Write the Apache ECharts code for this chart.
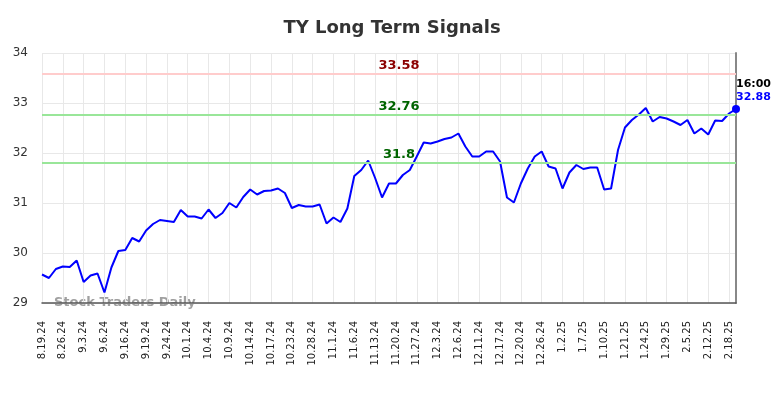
<!DOCTYPE html>
<html style="height: 100%">
<head>
    <meta charset="utf-8">
</head>
<body style="height: 100%; margin: 0">
    <div id="container" style="width: 784px; height: 398px;"></div>
    <script type="text/javascript" src="https://cdn.jsdelivr.net/npm/echarts@6/dist/echarts.min.js"></script>
    <script type="text/javascript">
        // tick labels, one every 3 points
        var tickLabels = ['8.19.24', '8.26.24', '9.3.24', '9.6.24', '9.16.24', '9.19.24', '9.24.24',
            '10.1.24', '10.4.24', '10.9.24', '10.14.24', '10.17.24', '10.23.24', '10.28.24',
            '11.1.24', '11.6.24', '11.13.24', '11.20.24', '11.27.24', '12.3.24', '12.6.24',
            '12.11.24', '12.17.24', '12.20.24', '12.26.24', '1.2.25', '1.7.25', '1.10.25',
            '1.21.25', '1.24.25', '1.29.25', '2.5.25', '2.12.25', '2.18.25'];

        var prices = [29.57, 29.50, 29.68, 29.73, 29.72, 29.85, 29.42, 29.55, 29.59, 29.21,
            29.71, 30.04, 30.06, 30.30, 30.23, 30.45, 30.58, 30.66, 30.64, 30.62,
            30.86, 30.73, 30.73, 30.69, 30.87, 30.70, 30.80, 31.00, 30.91, 31.12,
            31.27, 31.17, 31.24, 31.25, 31.29, 31.20, 30.90, 30.96, 30.93, 30.93,
            30.97, 30.59, 30.71, 30.62, 30.89, 31.54, 31.66, 31.85, 31.50, 31.11,
            31.39, 31.39, 31.56, 31.66, 31.93, 32.21, 32.19, 32.23, 32.28, 32.31,
            32.39, 32.13, 31.93, 31.93, 32.03, 32.03, 31.83, 31.11, 31.01, 31.39,
            31.69, 31.93, 32.03, 31.73, 31.69, 31.29, 31.61, 31.76, 31.68, 31.71,
            31.71, 31.27, 31.29, 32.06, 32.51, 32.66, 32.77, 32.90, 32.63, 32.72,
            32.69, 32.63, 32.56, 32.66, 32.39, 32.49, 32.37, 32.65, 32.64, 32.79,
            32.88];

        var levels = [33.58, 32.76, 31.8];
        var levelLineColors = ['#ffcccc', '#99e699', '#99e699'];
        var levelTextColors = ['#8b0000', '#006400', '#006400'];
        var lastTime = '16:00';

        var categories = prices.map(function (v, i) { return String(i); });
        var lastIdx = prices.length - 1;

        var dom = document.getElementById("container");
        var myChart = echarts.init(dom);

        var markData = levels.map(function (v, i) {
            return {
                yAxis: v,
                lineStyle: { color: levelLineColors[i], width: 2, type: 'solid' },
                label: {
                    show: true,
                    position: 'insideMiddleTop',
                    formatter: String(v),
                    color: levelTextColors[i],
                    fontWeight: 'bold',
                    fontSize: 13,
                    distance: 2,
                    offset: [10, 0]
                }
            };
        });

        var seriesData = prices.map(function (v, i) {
            if (i === lastIdx) {
                return {
                    value: v,
                    label: {
                        show: true,
                        position: [4, -1],
                        align: 'left',
                        verticalAlign: 'bottom',
                        formatter: '{t|' + lastTime + '}\n{v|' + v.toFixed(2) + '}',
                        rich: {
                            t: { color: '#000', fontWeight: 'bold', fontSize: 11, lineHeight: 13 },
                            v: { color: '#0000ff', fontWeight: 'bold', fontSize: 11, lineHeight: 13 }
                        }
                    }
                };
            }
            return v;
        });

        var option = {
            animation: false,
            textStyle: { fontFamily: 'DejaVu Sans' },
            title: {
                text: 'TY Long Term Signals',
                left: 'center',
                top: 14,
                textStyle: { fontSize: 18, fontWeight: 'bold', color: '#333', fontFamily: 'DejaVu Sans' }
            },
            graphic: [{
                type: 'text',
                left: 54,
                top: 296,
                style: {
                    text: 'Stock Traders Daily',
                    fill: '#a0a0a0',
                    font: 'bold 13px DejaVu Sans'
                }
            }],
            grid: { left: 42, right: 48, top: 53, bottom: 95 },
            xAxis: {
                type: 'category',
                data: categories,
                boundaryGap: false,
                axisLine: { lineStyle: { color: '#555', width: 1.5 } },
                axisTick: { show: false },
                axisLabel: {
                    interval: 2,
                    rotate: 90,
                    margin: 18,
                    fontSize: 10,
                    color: '#222',
                    formatter: function (v, idx) { return tickLabels[idx / 3] || ''; }
                },
                splitLine: { show: true, interval: 2, lineStyle: { color: '#e8e8e8', width: 1 } }
            },
            yAxis: [{
                type: 'value',
                min: 29,
                max: 34,
                interval: 1,
                axisLine: { show: false },
                axisTick: { show: false },
                axisLabel: { fontSize: 12, color: '#333', margin: 14 },
                splitLine: { lineStyle: { color: '#e8e8e8', width: 1 } }
            }, {
                type: 'value',
                position: 'right',
                min: 29,
                max: 34,
                axisLine: { show: true, lineStyle: { color: '#888', width: 2 } },
                axisTick: { show: false },
                axisLabel: { show: false },
                splitLine: { show: false }
            }],
            series: [{
                type: 'line',
                data: seriesData,
                showSymbol: true,
                showAllSymbol: true,
                symbol: 'circle',
                symbolSize: function (v, params) { return params.dataIndex === lastIdx ? 8 : 0; },
                clip: false,
                lineStyle: { color: '#0000ff', width: 2 },
                itemStyle: { color: '#0000ff' },
                markLine: {
                    silent: true,
                    symbol: 'none',
                    data: markData
                },
                z: 3
            }]
        };

        myChart.setOption(option, true);
    </script>
</body>
</html>
